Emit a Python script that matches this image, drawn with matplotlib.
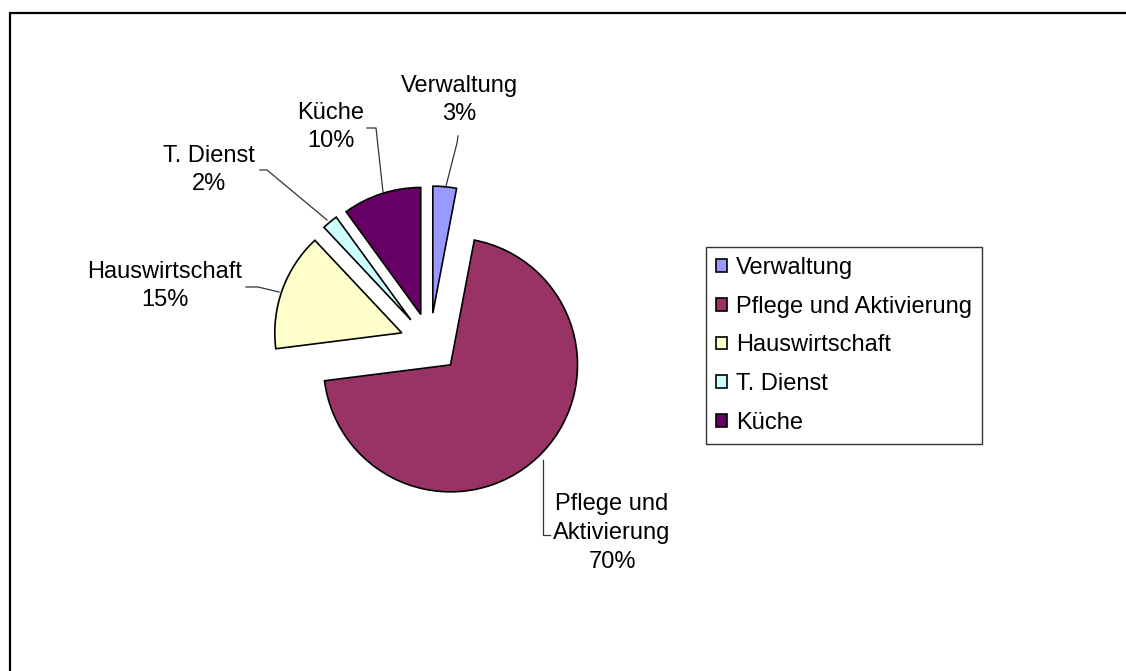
import matplotlib
matplotlib.use("Agg")
import matplotlib.pyplot as plt

# data
labels = ["Verwaltung", "Pflege und Aktivierung", "Hauswirtschaft", "T. Dienst", "Küche"]
pie_labels = ["Verwaltung", "Pflege und\nAktivierung", "Hauswirtschaft", "T. Dienst", "Küche"]
shares = [3, 70, 15, 2, 10]
colors = ["#9999FF", "#993366", "#FFFFCC", "#CCFFFF", "#660066"]

plt.rcParams["font.family"] = ["Liberation Sans", "DejaVu Sans"]
fs = 17

W, H = 1126, 671
fig = plt.figure(figsize=(W / 100, H / 100), dpi=100)

# pie axes: one data unit = pie radius (127 px), centre at (430, 343) px
R, cx, cy = 127.0, 430.0, 343.0
ax = fig.add_axes([0, 0, 1, 1])
wedges, _ = ax.pie(
    shares,
    colors=colors,
    startangle=90,
    counterclock=False,
    explode=[0.236] * len(shares),
    radius=1,
    wedgeprops=dict(edgecolor="black", linewidth=1.2),
)
ax.set_xlim(-cx / R, (W - cx) / R)
ax.set_ylim(-(H - cy) / R, cy / R)
ax.set_aspect("auto")
ax.axis("off")

# overlay in image pixel coordinates for labels, leaders and frame
ann = fig.add_axes([0, 0, 1, 1], facecolor="none")
ann.set_xlim(0, W)
ann.set_ylim(H, 0)
ann.axis("off")

# label block centres and leader lines
label_pos = [(459, 100), (612, 533), (165, 286), (209, 170), (331, 127)]
leaders = [
    ([458, 457, 446], [136, 143, 186]),
    ([543, 543, 550], [460, 535, 535]),
    ([246, 258, 279], [287, 287, 292]),
    ([260, 267, 327], [170, 170, 220]),
    ([367, 376, 383], [128, 128, 192]),
]
for name, pct, (tx, ty), (lx, ly) in zip(pie_labels, shares, label_pos, leaders):
    ann.text(tx, ty, f"{name}\n{pct}%", ha="center", va="center",
             fontsize=fs, linespacing=1.4, color="black")
    ann.plot(lx, ly, color="#333333", linewidth=0.9)

# chart area frame (only top and left edges visible)
ann.plot([10, 10, W + 5], [H + 5, 13, 13], color="black", linewidth=1.6,
         solid_joinstyle="miter")

leg = ann.legend(
    wedges, labels,
    loc="upper left",
    bbox_to_anchor=(706 / W, 1 - 247 / H),
    bbox_transform=fig.transFigure,
    fontsize=fs,
    frameon=True,
    fancybox=False,
    shadow=False,
    borderaxespad=0,
    borderpad=0.42,
    handlelength=0.45,
    handleheight=0.45,
    handletextpad=0.4,
    labelspacing=0.71,
)
leg.get_frame().set_edgecolor("black")
leg.get_frame().set_linewidth(1.0)

fig.savefig("out.png", dpi=100)
